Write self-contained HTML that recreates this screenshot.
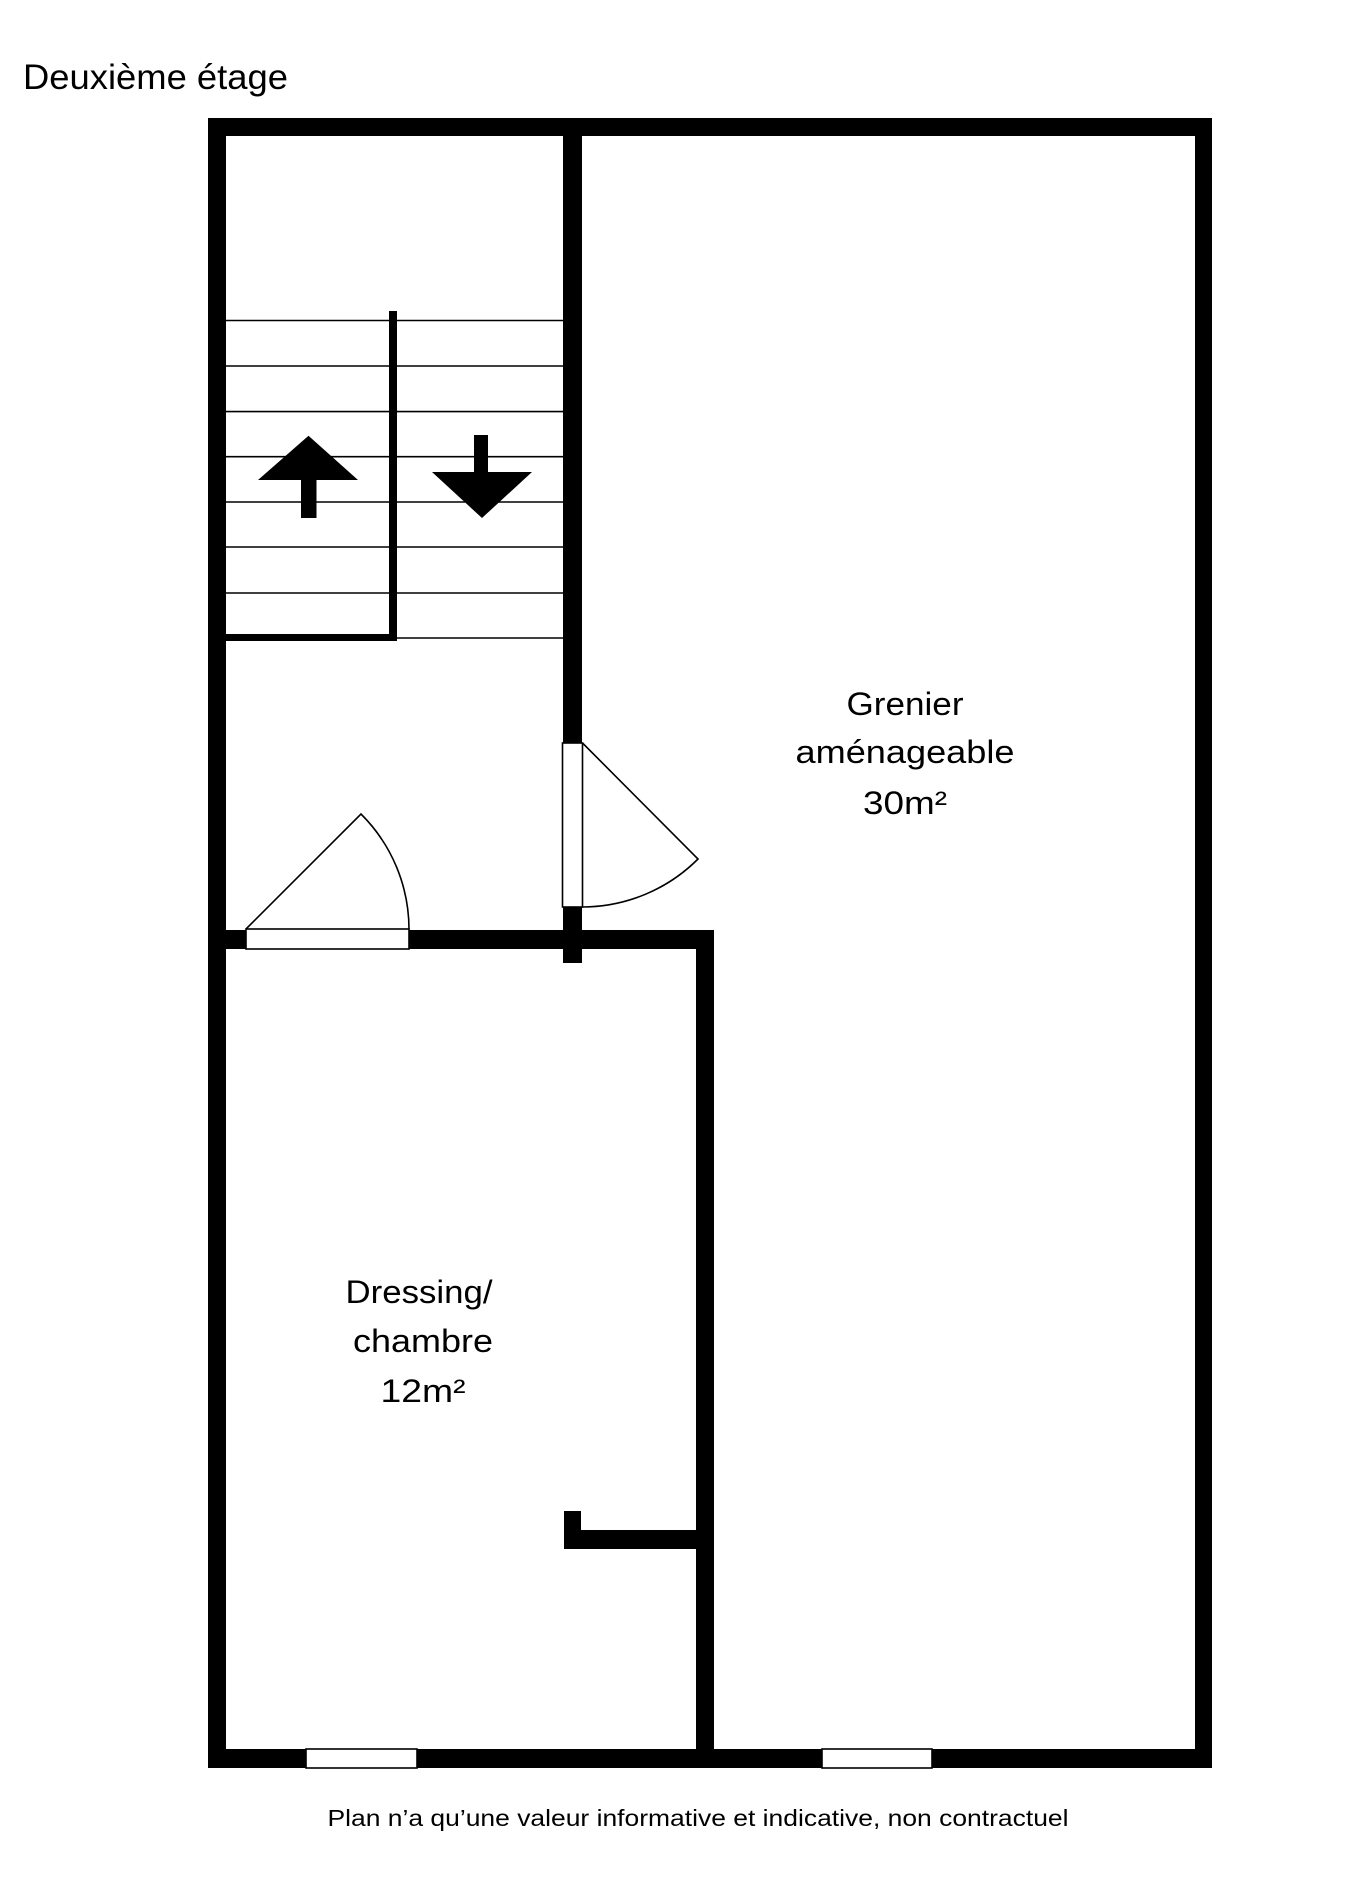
<!DOCTYPE html>
<html><head><meta charset="utf-8"><style>
html,body{margin:0;padding:0;background:#fff;}
svg{display:block;}
text{font-family:"Liberation Sans","DejaVu Sans",sans-serif;fill:#000;}
</style></head><body>
<svg width="1362" height="1900" viewBox="0 0 1362 1900" xmlns="http://www.w3.org/2000/svg">
<text x="23" y="89" font-size="35" textLength="265" lengthAdjust="spacingAndGlyphs">Deuxième étage</text>
<g fill="#000">
<rect x="208" y="118" width="1004" height="18"/>
<rect x="208" y="118" width="18" height="1650"/>
<rect x="1195" y="118" width="17" height="1650"/>
<rect x="208" y="1749" width="1004" height="19"/>
<rect x="563" y="118" width="19" height="845"/>
<rect x="208" y="930" width="506" height="19"/>
<rect x="696" y="930" width="18" height="838"/>
<rect x="564" y="1530" width="150" height="19"/>
<rect x="564" y="1511" width="17" height="38"/>
<rect x="389" y="311" width="8" height="330"/>
<rect x="226" y="634" width="171" height="7"/>
<polygon points="308.5,435.7 358,480 316.5,480 316.5,518 301,518 301,480 258,480"/>
<polygon points="474,435 488,435 488,472 532,472 482,518 432,472 474,472"/>
</g>
<g stroke="#000" stroke-width="1.6">
<line x1="226" y1="320.5" x2="389" y2="320.5"/><line x1="397" y1="320.5" x2="563" y2="320.5"/>
<line x1="226" y1="366" x2="389" y2="366"/><line x1="397" y1="366" x2="563" y2="366"/>
<line x1="226" y1="411.6" x2="389" y2="411.6"/><line x1="397" y1="411.6" x2="563" y2="411.6"/>
<line x1="226" y1="456.7" x2="389" y2="456.7"/><line x1="397" y1="456.7" x2="563" y2="456.7"/>
<line x1="226" y1="502" x2="389" y2="502"/><line x1="397" y1="502" x2="563" y2="502"/>
<line x1="226" y1="547" x2="389" y2="547"/><line x1="397" y1="547" x2="563" y2="547"/>
<line x1="226" y1="593" x2="389" y2="593"/><line x1="397" y1="593" x2="563" y2="593"/>
<line x1="397" y1="638" x2="563" y2="638"/>
</g>
<g stroke="#000" stroke-width="1.6" fill="#fff">
<rect x="246" y="929" width="163" height="20"/>
<rect x="562.5" y="743" width="20" height="164"/>
<rect x="306" y="1749" width="111" height="19"/>
<rect x="822" y="1749" width="110" height="19"/>
</g>
<g stroke="#000" stroke-width="1.6" fill="none">
<path d="M246,929 L361,814 A163,163 0 0 1 409,929"/>
<path d="M582.5,743 L698,859 A164,164 0 0 1 582.5,907"/>
</g>
<g font-size="32" text-anchor="middle">
<text x="905" y="715" textLength="117" lengthAdjust="spacingAndGlyphs">Grenier</text>
<text x="905" y="763" textLength="219" lengthAdjust="spacingAndGlyphs">aménageable</text>
<text x="905" y="814" textLength="84" lengthAdjust="spacingAndGlyphs">30m²</text>
<text x="419" y="1303" textLength="147" lengthAdjust="spacingAndGlyphs">Dressing/</text>
<text x="423" y="1352" textLength="140" lengthAdjust="spacingAndGlyphs">chambre</text>
<text x="423" y="1402" textLength="85" lengthAdjust="spacingAndGlyphs">12m²</text>
</g>
<text x="698" y="1826" font-size="23" text-anchor="middle" textLength="741" lengthAdjust="spacingAndGlyphs">Plan n’a qu’une valeur informative et indicative, non contractuel</text>
</svg>
</body></html>
